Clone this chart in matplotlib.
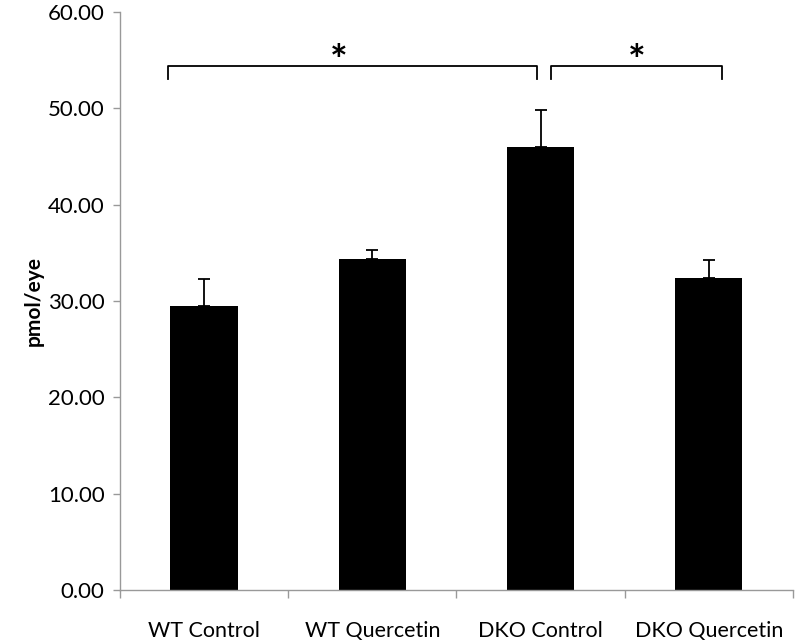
import matplotlib
matplotlib.use("Agg")
import matplotlib.pyplot as plt
import numpy as np

plt.rcParams['font.family'] = ['Lato', 'DejaVu Sans']

# values
groups = ["WT Control", "WT Quercetin", "DKO Control", "DKO Quercetin"]
means = [29.45, 34.4, 46.0, 32.4]
errors = [2.85, 0.9, 3.8, 1.9]
y_ticks = [0, 10, 20, 30, 40, 50, 60]

# significance brackets: (x start, x end, label x)
brackets = [(-0.215, 1.978, 0.80), (2.06, 3.078, 2.57)]
bracket_y, bracket_drop = 54.4, 1.4

fig = plt.figure(figsize=(8, 6.43), dpi=100)
ax = fig.add_axes([0.15, 0.0824, 0.841, 0.899])

x = np.arange(len(groups))
ax.bar(x, means, width=0.4, color="black", zorder=2)
ax.errorbar(x, means, yerr=[np.zeros(len(errors)), errors], fmt="none",
            ecolor="black", elinewidth=1.3, capsize=4, capthick=1.3, zorder=3)

for x0, x1, xs in brackets:
    ax.plot([x0, x0, x1, x1],
            [bracket_y - bracket_drop, bracket_y, bracket_y, bracket_y - bracket_drop],
            color="black", lw=1.3, clip_on=False)
    ax.text(xs, 54.7, "*", ha="center", va="center",
            fontsize=30, fontweight="bold")

ax.set_xlim(-0.5, len(groups) - 0.5)
ax.set_ylim(0, 60)
ax.set_yticks(y_ticks)
ax.set_yticklabels([f"{v:.2f}" for v in y_ticks], fontsize=16)
ax.set_xticks(x)
ax.set_xticklabels(groups, fontsize=15.5)
ax.set_xticks(np.arange(-0.5, len(groups)), minor=True)
ax.tick_params(axis="x", which="major", length=0, pad=22)
ax.tick_params(axis="x", which="minor", length=6, color="#999999", width=1)
ax.tick_params(axis="y", length=5, color="#999999", width=1, pad=6)

ax.set_ylabel("pmol/eye", fontsize=15, fontweight="bold", labelpad=3)

for s in ["top", "right"]:
    ax.spines[s].set_visible(False)
for s in ["left", "bottom"]:
    ax.spines[s].set_color("#999999")
    ax.spines[s].set_linewidth(1)

fig.savefig("out.png", dpi=100)
